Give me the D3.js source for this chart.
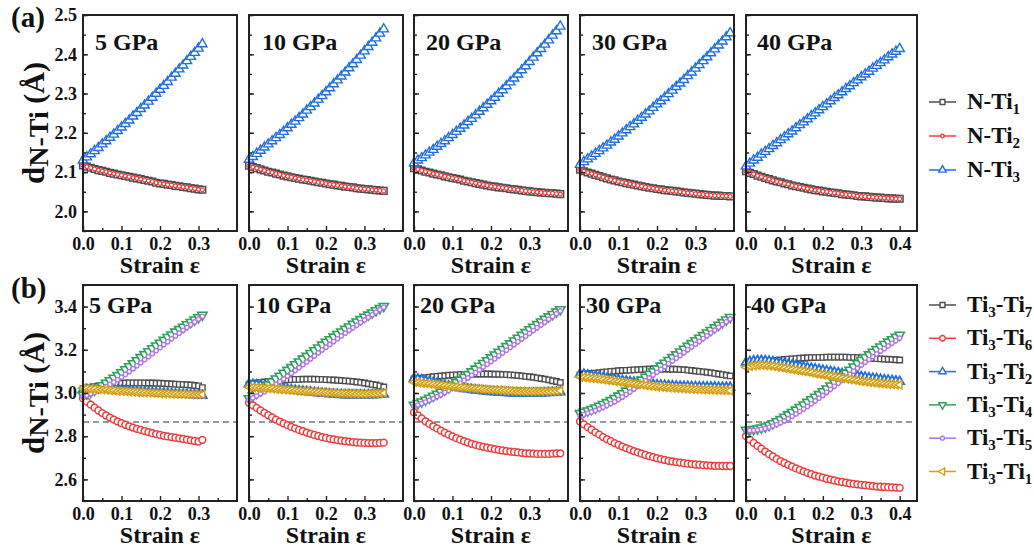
<!DOCTYPE html>
<html>
<head>
<meta charset="utf-8">
<script src="https://cdn.jsdelivr.net/npm/d3@7"></script>
<style>
  body { margin: 0; background: #fff; }
</style>
</head>
<body>
<svg id="chart" width="1034" height="551"></svg>
<script>
// strain grid (each pressure run stops at a different strain)
const STRAIN = [0.00,0.01,0.02,0.03,0.04,0.05,0.06,0.07,0.08,0.09,0.10,0.11,0.12,0.13,0.14,0.15,0.16,0.17,0.18,0.19,0.20,
  0.21,0.22,0.23,0.24,0.25,0.26,0.27,0.28,0.29,0.30,0.31,0.32,0.33,0.34,0.35,0.36,0.37,0.38,0.39,0.40];
const PRESSURES = ['5 GPa', '10 GPa', '20 GPa', '30 GPa', '40 GPa'];
const X_TICKS = [0.0, 0.1, 0.2, 0.3, 0.4];
const Y_TICKS_A = [2.0, 2.1, 2.2, 2.3, 2.4, 2.5];
const Y_TICKS_B = [2.6, 2.8, 3.0, 3.2, 3.4];
const D_REF = 2.866;   // dashed reference line in (b)

// (a) N-Ti distances, one list per pressure
const N_TI1 = [
  [2.117,2.114,2.111,2.108,2.105,2.103,2.101,2.098,2.096,2.094,2.092,2.090,2.088,2.086,2.084,2.082,2.080,2.078,2.076,2.073,2.071,2.070,2.068,2.067,2.065,2.064,2.062,2.061,2.059,2.058,2.056,2.055],
  [2.116,2.113,2.110,2.107,2.104,2.101,2.099,2.096,2.094,2.091,2.089,2.087,2.085,2.083,2.081,2.080,2.078,2.076,2.074,2.073,2.071,2.069,2.068,2.066,2.065,2.063,2.062,2.061,2.059,2.058,2.057,2.056,2.055,2.054,2.053,2.052],
  [2.110,2.107,2.104,2.101,2.099,2.096,2.094,2.092,2.089,2.087,2.085,2.083,2.081,2.078,2.076,2.074,2.072,2.070,2.068,2.066,2.064,2.063,2.061,2.060,2.059,2.057,2.056,2.055,2.053,2.052,2.051,2.050,2.049,2.048,2.047,2.046,2.046,2.045,2.044],
  [2.106,2.102,2.099,2.096,2.093,2.090,2.087,2.084,2.081,2.079,2.076,2.074,2.072,2.070,2.068,2.066,2.064,2.062,2.060,2.059,2.057,2.056,2.054,2.053,2.052,2.051,2.050,2.048,2.047,2.046,2.045,2.044,2.043,2.042,2.041,2.040,2.040,2.039,2.039,2.038],
  [2.102,2.098,2.095,2.091,2.088,2.085,2.082,2.079,2.076,2.074,2.071,2.069,2.066,2.064,2.062,2.060,2.058,2.056,2.054,2.053,2.051,2.050,2.048,2.047,2.046,2.044,2.043,2.042,2.041,2.039,2.038,2.038,2.037,2.036,2.035,2.035,2.034,2.033,2.033,2.032,2.032]
];
const N_TI2 = [
  [2.117,2.114,2.111,2.108,2.105,2.103,2.101,2.098,2.096,2.094,2.092,2.090,2.088,2.086,2.084,2.082,2.080,2.078,2.076,2.073,2.071,2.070,2.068,2.067,2.065,2.064,2.062,2.061,2.059,2.058,2.056,2.055],
  [2.116,2.113,2.110,2.107,2.104,2.101,2.099,2.096,2.094,2.091,2.089,2.087,2.085,2.083,2.081,2.080,2.078,2.076,2.074,2.073,2.071,2.069,2.068,2.066,2.065,2.063,2.062,2.061,2.059,2.058,2.057,2.056,2.055,2.054,2.053,2.052],
  [2.110,2.107,2.104,2.101,2.099,2.096,2.094,2.092,2.089,2.087,2.085,2.083,2.081,2.078,2.076,2.074,2.072,2.070,2.068,2.066,2.064,2.063,2.061,2.060,2.059,2.057,2.056,2.055,2.053,2.052,2.051,2.050,2.049,2.048,2.047,2.046,2.046,2.045,2.044],
  [2.106,2.102,2.099,2.096,2.093,2.090,2.087,2.084,2.081,2.079,2.076,2.074,2.072,2.070,2.068,2.066,2.064,2.062,2.060,2.059,2.057,2.056,2.054,2.053,2.052,2.051,2.050,2.048,2.047,2.046,2.045,2.044,2.043,2.042,2.041,2.040,2.040,2.039,2.039,2.038],
  [2.102,2.098,2.095,2.091,2.088,2.085,2.082,2.079,2.076,2.074,2.071,2.069,2.066,2.064,2.062,2.060,2.058,2.056,2.054,2.053,2.051,2.050,2.048,2.047,2.046,2.044,2.043,2.042,2.041,2.039,2.038,2.038,2.037,2.036,2.035,2.035,2.034,2.033,2.033,2.032,2.032]
];
const N_TI3 = [
  [2.130,2.138,2.146,2.154,2.162,2.171,2.179,2.188,2.196,2.205,2.214,2.223,2.232,2.242,2.251,2.261,2.270,2.280,2.290,2.300,2.310,2.320,2.330,2.341,2.351,2.362,2.372,2.383,2.394,2.404,2.415,2.426],
  [2.132,2.139,2.147,2.155,2.163,2.171,2.179,2.187,2.195,2.203,2.212,2.221,2.229,2.238,2.247,2.257,2.266,2.275,2.285,2.294,2.304,2.314,2.324,2.334,2.344,2.354,2.365,2.375,2.386,2.397,2.408,2.419,2.430,2.441,2.453,2.464],
  [2.123,2.130,2.136,2.143,2.150,2.157,2.165,2.172,2.179,2.187,2.195,2.203,2.211,2.219,2.228,2.236,2.245,2.254,2.263,2.272,2.281,2.290,2.300,2.309,2.319,2.329,2.339,2.349,2.360,2.370,2.381,2.392,2.403,2.414,2.425,2.436,2.448,2.459,2.471],
  [2.119,2.126,2.133,2.140,2.147,2.154,2.161,2.168,2.176,2.183,2.191,2.199,2.207,2.215,2.222,2.231,2.239,2.247,2.255,2.264,2.273,2.281,2.290,2.299,2.308,2.317,2.326,2.335,2.345,2.354,2.364,2.373,2.383,2.393,2.403,2.413,2.423,2.433,2.444,2.454],
  [2.115,2.122,2.130,2.137,2.145,2.152,2.159,2.167,2.174,2.182,2.189,2.197,2.204,2.212,2.220,2.227,2.235,2.243,2.250,2.258,2.266,2.273,2.281,2.289,2.296,2.304,2.312,2.319,2.327,2.334,2.342,2.349,2.356,2.364,2.371,2.378,2.385,2.393,2.400,2.407,2.414]
];

// (b) Ti3-Ti distances
const TI3_TI7 = [
  [3.020,3.023,3.026,3.029,3.032,3.035,3.038,3.040,3.042,3.044,3.045,3.046,3.047,3.047,3.047,3.047,3.047,3.046,3.046,3.045,3.045,3.044,3.043,3.042,3.041,3.040,3.039,3.038,3.037,3.035,3.033,3.025],
  [3.040,3.043,3.046,3.048,3.051,3.053,3.055,3.057,3.059,3.060,3.061,3.062,3.063,3.063,3.064,3.064,3.064,3.064,3.063,3.063,3.062,3.061,3.060,3.059,3.058,3.056,3.055,3.053,3.051,3.049,3.046,3.043,3.040,3.037,3.033,3.028],
  [3.065,3.067,3.069,3.071,3.073,3.075,3.077,3.079,3.080,3.082,3.083,3.084,3.085,3.086,3.087,3.087,3.088,3.088,3.088,3.088,3.088,3.087,3.087,3.086,3.085,3.084,3.083,3.081,3.079,3.077,3.075,3.073,3.070,3.067,3.064,3.061,3.057,3.053,3.049],
  [3.083,3.086,3.088,3.090,3.092,3.094,3.096,3.098,3.100,3.101,3.103,3.104,3.105,3.106,3.107,3.108,3.109,3.110,3.110,3.111,3.111,3.111,3.111,3.111,3.110,3.110,3.109,3.108,3.106,3.104,3.102,3.100,3.098,3.096,3.094,3.091,3.088,3.085,3.082,3.079],
  [3.128,3.132,3.136,3.139,3.142,3.145,3.147,3.149,3.151,3.153,3.155,3.157,3.158,3.159,3.161,3.162,3.163,3.164,3.164,3.165,3.165,3.166,3.166,3.166,3.166,3.166,3.166,3.165,3.165,3.164,3.163,3.162,3.161,3.160,3.159,3.158,3.157,3.156,3.155,3.154,3.153]
];
const TI3_TI6 = [
  [2.975,2.960,2.946,2.932,2.919,2.907,2.896,2.886,2.877,2.868,2.860,2.853,2.846,2.840,2.834,2.829,2.824,2.819,2.814,2.810,2.806,2.802,2.799,2.796,2.793,2.790,2.787,2.784,2.781,2.778,2.775,2.783],
  [2.955,2.943,2.931,2.919,2.908,2.897,2.887,2.877,2.868,2.859,2.851,2.843,2.836,2.829,2.823,2.817,2.811,2.806,2.801,2.796,2.792,2.788,2.785,2.782,2.779,2.777,2.775,2.773,2.771,2.770,2.769,2.768,2.768,2.768,2.769,2.770],
  [2.910,2.896,2.882,2.869,2.857,2.846,2.836,2.826,2.816,2.807,2.799,2.791,2.784,2.777,2.771,2.765,2.760,2.755,2.751,2.747,2.744,2.740,2.737,2.734,2.731,2.729,2.727,2.725,2.723,2.721,2.720,2.719,2.718,2.718,2.718,2.718,2.719,2.720,2.721],
  [2.868,2.855,2.842,2.830,2.818,2.807,2.796,2.786,2.777,2.768,2.760,2.752,2.745,2.738,2.731,2.725,2.719,2.713,2.708,2.703,2.698,2.694,2.690,2.686,2.683,2.680,2.678,2.675,2.673,2.671,2.669,2.668,2.666,2.665,2.664,2.663,2.663,2.662,2.662,2.662],
  [2.800,2.784,2.769,2.755,2.742,2.729,2.717,2.706,2.695,2.685,2.676,2.667,2.659,2.651,2.644,2.637,2.630,2.624,2.618,2.613,2.608,2.603,2.599,2.595,2.591,2.588,2.585,2.582,2.579,2.577,2.575,2.573,2.571,2.569,2.567,2.566,2.565,2.564,2.563,2.562,2.561]
];
const TI3_TI2 = [
  [3.015,3.016,3.017,3.018,3.018,3.018,3.017,3.016,3.015,3.013,3.012,3.011,3.010,3.008,3.007,3.006,3.005,3.004,3.002,3.001,3.000,2.999,2.998,2.997,2.996,2.995,2.994,2.993,2.992,2.991,2.990,2.988],
  [3.042,3.040,3.037,3.035,3.032,3.030,3.027,3.025,3.022,3.020,3.017,3.015,3.012,3.010,3.008,3.006,3.004,3.002,3.000,2.998,2.997,2.995,2.994,2.993,2.992,2.991,2.991,2.990,2.990,2.990,2.990,2.991,2.991,2.992,2.993,2.994],
  [3.068,3.064,3.060,3.056,3.052,3.048,3.044,3.040,3.036,3.032,3.029,3.026,3.023,3.020,3.018,3.015,3.013,3.011,3.009,3.007,3.006,3.004,3.003,3.002,3.001,3.000,2.999,2.999,2.998,2.998,2.998,2.998,2.999,2.999,3.000,3.001,3.002,3.003,3.004],
  [3.088,3.086,3.083,3.080,3.077,3.074,3.071,3.068,3.065,3.063,3.060,3.057,3.055,3.052,3.050,3.048,3.046,3.044,3.041,3.039,3.037,3.036,3.035,3.034,3.033,3.032,3.031,3.030,3.030,3.029,3.029,3.028,3.028,3.027,3.027,3.027,3.026,3.026,3.026,3.026],
  [3.142,3.145,3.148,3.150,3.150,3.149,3.147,3.144,3.141,3.138,3.135,3.132,3.129,3.126,3.123,3.120,3.117,3.114,3.111,3.108,3.105,3.102,3.099,3.096,3.093,3.090,3.087,3.084,3.081,3.078,3.075,3.073,3.070,3.068,3.066,3.063,3.061,3.059,3.057,3.055,3.053]
];
const TI3_TI4 = [
  [2.990,2.997,3.005,3.014,3.024,3.035,3.046,3.058,3.070,3.082,3.095,3.109,3.123,3.137,3.151,3.165,3.179,3.192,3.206,3.219,3.232,3.245,3.258,3.270,3.283,3.295,3.306,3.317,3.328,3.339,3.350,3.361],
  [2.975,2.987,3.000,3.013,3.026,3.039,3.052,3.066,3.079,3.092,3.106,3.119,3.132,3.145,3.158,3.171,3.184,3.197,3.210,3.223,3.236,3.248,3.260,3.272,3.284,3.296,3.307,3.319,3.330,3.341,3.352,3.362,3.372,3.382,3.392,3.402],
  [2.944,2.952,2.960,2.968,2.977,2.986,2.995,3.005,3.015,3.026,3.037,3.049,3.061,3.073,3.086,3.099,3.112,3.125,3.138,3.151,3.164,3.177,3.190,3.203,3.216,3.229,3.242,3.255,3.268,3.281,3.294,3.306,3.318,3.330,3.342,3.354,3.365,3.376,3.387],
  [2.906,2.912,2.918,2.925,2.932,2.940,2.948,2.957,2.966,2.976,2.987,2.998,3.010,3.022,3.035,3.048,3.061,3.074,3.087,3.100,3.113,3.126,3.139,3.152,3.165,3.178,3.191,3.204,3.217,3.230,3.243,3.255,3.267,3.279,3.291,3.303,3.315,3.327,3.339,3.351],
  [2.829,2.830,2.832,2.835,2.839,2.844,2.851,2.859,2.868,2.878,2.889,2.900,2.911,2.922,2.934,2.946,2.958,2.970,2.982,2.994,3.007,3.020,3.034,3.048,3.062,3.077,3.092,3.107,3.122,3.137,3.152,3.165,3.178,3.190,3.202,3.214,3.226,3.237,3.248,3.259,3.269]
];
const TI3_TI5 = [
  [2.985,2.990,2.996,3.003,3.011,3.020,3.029,3.039,3.050,3.061,3.073,3.086,3.099,3.112,3.126,3.140,3.154,3.168,3.182,3.196,3.210,3.224,3.237,3.251,3.264,3.277,3.290,3.303,3.316,3.329,3.342,3.355],
  [2.968,2.977,2.986,2.996,3.006,3.017,3.028,3.040,3.052,3.065,3.078,3.091,3.104,3.117,3.131,3.144,3.158,3.171,3.185,3.199,3.212,3.225,3.238,3.251,3.264,3.277,3.290,3.302,3.314,3.326,3.338,3.350,3.362,3.374,3.386,3.397],
  [2.937,2.944,2.951,2.958,2.966,2.974,2.983,2.992,3.002,3.012,3.023,3.034,3.046,3.058,3.070,3.082,3.094,3.107,3.120,3.133,3.146,3.159,3.172,3.185,3.198,3.211,3.224,3.237,3.250,3.263,3.276,3.289,3.302,3.315,3.328,3.341,3.354,3.367,3.380],
  [2.894,2.900,2.906,2.912,2.919,2.926,2.934,2.942,2.951,2.960,2.970,2.981,2.993,3.005,3.018,3.031,3.044,3.057,3.070,3.083,3.096,3.109,3.122,3.135,3.148,3.161,3.174,3.187,3.200,3.213,3.226,3.239,3.252,3.265,3.278,3.291,3.304,3.317,3.330,3.343],
  [2.826,2.826,2.827,2.829,2.832,2.836,2.841,2.847,2.854,2.862,2.871,2.881,2.892,2.903,2.914,2.926,2.938,2.950,2.963,2.976,2.989,3.003,3.017,3.031,3.045,3.059,3.073,3.087,3.101,3.115,3.129,3.142,3.155,3.168,3.181,3.194,3.206,3.218,3.230,3.242,3.254]
];
const TI3_TI1 = [
  [3.022,3.021,3.019,3.018,3.016,3.015,3.014,3.012,3.011,3.009,3.008,3.007,3.006,3.005,3.004,3.003,3.002,3.001,3.000,2.999,2.998,2.997,2.997,2.996,2.996,2.995,2.995,2.994,2.994,2.993,2.993,2.993],
  [3.027,3.026,3.025,3.024,3.022,3.021,3.020,3.018,3.017,3.015,3.014,3.013,3.011,3.010,3.009,3.008,3.006,3.005,3.004,3.003,3.002,3.001,3.000,2.999,2.998,2.998,2.997,2.997,2.996,2.996,2.996,2.997,2.997,2.998,2.999,3.000],
  [3.050,3.048,3.046,3.044,3.042,3.040,3.038,3.036,3.034,3.032,3.030,3.028,3.026,3.025,3.023,3.022,3.020,3.019,3.017,3.016,3.015,3.014,3.013,3.012,3.011,3.010,3.009,3.008,3.008,3.007,3.007,3.007,3.007,3.007,3.008,3.008,3.009,3.010,3.011],
  [3.074,3.072,3.070,3.068,3.066,3.064,3.062,3.059,3.057,3.054,3.052,3.049,3.047,3.044,3.042,3.040,3.038,3.035,3.033,3.031,3.029,3.028,3.026,3.025,3.023,3.022,3.021,3.020,3.019,3.018,3.017,3.016,3.015,3.015,3.014,3.013,3.013,3.012,3.012,3.011],
  [3.120,3.124,3.127,3.129,3.129,3.128,3.126,3.124,3.121,3.118,3.115,3.112,3.109,3.106,3.103,3.100,3.097,3.094,3.090,3.087,3.084,3.081,3.078,3.075,3.072,3.069,3.066,3.063,3.060,3.057,3.054,3.052,3.050,3.048,3.046,3.044,3.042,3.041,3.040,3.039,3.038]
];

// series styling (draw order = legend order, later ones on top)
const SERIES_A = [
  { label: 'N-Ti_1', data: N_TI1, color: '#4d4d4d', shape: 'square', size: 44, sw: 1.5 },
  { label: 'N-Ti_2', data: N_TI2, color: '#f03c3c', shape: 'circle', size: 12, sw: 1.2 },
  { label: 'N-Ti_3', data: N_TI3, color: '#1f6fe0', shape: 'up',     size: 38, sw: 1.4 }
];
const SERIES_B = [
  { label: 'Ti_3-Ti_7', data: TI3_TI7, color: '#4d4d4d', shape: 'square', size: 30, sw: 1.4 },
  { label: 'Ti_3-Ti_6', data: TI3_TI6, color: '#f03c3c', shape: 'circle', size: 36, sw: 1.5 },
  { label: 'Ti_3-Ti_2', data: TI3_TI2, color: '#1f6fe0', shape: 'up',     size: 34, sw: 1.8 },
  { label: 'Ti_3-Ti_4', data: TI3_TI4, color: '#2ea05c', shape: 'down',   size: 38, sw: 1.6 },
  { label: 'Ti_3-Ti_5', data: TI3_TI5, color: '#b374ea', shape: 'circle', size: 15, sw: 1.4 },
  { label: 'Ti_3-Ti_1', data: TI3_TI1, color: '#d4a012', shape: 'left',   size: 28, sw: 1.5 }
];

const PANEL_X = [83, 249, 414, 580, 746];
const PANEL_W = [154, 154, 154, 154, 171];
const X_MAX   = [0.4, 0.4, 0.4, 0.4, 0.445];

const ROWS = [
  { top: 15,  bottom: 231, domain: [1.95, 2.5], major: Y_TICKS_A, minorStep: 0.05, series: SERIES_A,
    tag: '(a)', tagY: 27, titleDy: 35, titleDx: [12, 13, 12, 12, 11], legendX: 929, legendY: 102, legendGap: 34 },
  { top: 285, bottom: 501, domain: [2.5, 3.5],  major: Y_TICKS_B, minorStep: 0.1,  series: SERIES_B,
    tag: '(b)', tagY: 298, titleDy: 28, titleDx: [6, 7, 6, 6, 5], legendX: 929, legendY: 305, legendGap: 33.3 }
];

const FONT = 'Liberation Serif';
const svg = d3.select('#chart');

function symbolPath(shape, size) {
  const type = shape === 'square' ? d3.symbolSquare : shape === 'circle' ? d3.symbolCircle : d3.symbolTriangle;
  return d3.symbol().type(type).size(size)();
}
function symbolRotate(shape) {
  if (shape === 'down') return 180;
  if (shape === 'left') return -90;
  return 0;
}

// text with "_n" subscripts
function richText(sel, label, size, subSize, shift) {
  const parts = label.split(/_(\d)/);
  let prevSub = false;
  parts.forEach((p, k) => {
    const sub = k % 2 === 1;
    if (!p) return;
    const t = sel.append('tspan').attr('font-size', sub ? subSize : size).text(p);
    if (sub && !prevSub) t.attr('dy', shift);
    if (!sub && prevSub) t.attr('dy', -shift);
    prevSub = sub;
  });
}

ROWS.forEach((row, r) => {
  const y = d3.scaleLinear().domain(row.domain).range([row.bottom, row.top]);
  const yMinor = d3.range(row.domain[0], row.domain[1] + 1e-9, row.minorStep);

  PRESSURES.forEach((p, i) => {
    const x = d3.scaleLinear().domain([0, X_MAX[i]]).range([PANEL_X[i], PANEL_X[i] + PANEL_W[i]]);
    const xMinor = d3.range(0.05, X_MAX[i], 0.1);
    const g = svg.append('g');

    // dashed reference line in (b)
    if (r === 1) {
      g.append('line')
        .attr('x1', x.range()[0]).attr('x2', x.range()[1])
        .attr('y1', y(D_REF)).attr('y2', y(D_REF))
        .attr('stroke', '#333').attr('stroke-width', 1.1).attr('stroke-dasharray', '6,4');
    }

    row.series.forEach(s => {
      const pts = s.data[i].map((v, k) => [STRAIN[k], v]);
      g.append('path')
        .datum(pts)
        .attr('fill', 'none').attr('stroke', s.color).attr('stroke-width', 1.2)
        .attr('d', d3.line().x(d => x(d[0])).y(d => y(d[1])));
      g.selectAll(null).data(pts).join('path')
        .attr('d', symbolPath(s.shape, s.size))
        .attr('transform', d => `translate(${x(d[0])},${y(d[1])}) rotate(${symbolRotate(s.shape)})`)
        .attr('fill', '#fff').attr('stroke', s.color).attr('stroke-width', s.sw);
    });

    // axes (ticks inward)
    const xAxis = d3.axisBottom(x).tickValues(X_TICKS.filter(v => v < X_MAX[i] - 1e-6 || i === 4))
      .tickSize(-5).tickPadding(6).tickFormat(d3.format('.1f'));
    g.append('g').attr('transform', `translate(0,${row.bottom})`).call(xAxis);
    g.append('g').attr('transform', `translate(0,${row.bottom})`)
      .call(d3.axisBottom(x).tickValues(xMinor).tickSize(-3))
      .selectAll('text').remove();

    const yAxis = d3.axisLeft(y).tickValues(row.major).tickSize(-5).tickPadding(6)
      .tickFormat(d3.format('.1f'));
    const ya = g.append('g').attr('transform', `translate(${PANEL_X[i]},0)`).call(yAxis);
    if (i > 0) ya.selectAll('text').remove();
    g.append('g').attr('transform', `translate(${PANEL_X[i]},0)`)
      .call(d3.axisLeft(y).tickValues(yMinor).tickSize(-3))
      .selectAll('text').remove();

    g.selectAll('.domain').remove();
    g.selectAll('g').attr('font-family', null).attr('font-size', null);
    g.selectAll('.tick line').attr('stroke', '#222').attr('stroke-width', 1.4);
    g.selectAll('.tick text').attr('font-size', 18);

    // frame
    g.append('rect')
      .attr('x', PANEL_X[i]).attr('y', row.top)
      .attr('width', PANEL_W[i]).attr('height', row.bottom - row.top)
      .attr('fill', 'none').attr('stroke', '#222').attr('stroke-width', 2);

    // pressure label
    g.append('text')
      .attr('x', PANEL_X[i] + row.titleDx[i]).attr('y', row.top + row.titleDy)
      .attr('font-size', 24).text(p);

    // x title
    g.append('text')
      .attr('x', PANEL_X[i] + PANEL_W[i] / 2).attr('y', row.bottom + 42)
      .attr('text-anchor', 'middle').attr('font-size', 24).text('Strain ε');
  });

  // y title: d_{N-Ti} (Å)
  const yt = svg.append('text')
    .attr('transform', `translate(44,${(row.top + row.bottom) / 2}) rotate(-90)`)
    .attr('text-anchor', 'middle');
  yt.append('tspan').attr('font-size', 31).text('d');
  yt.append('tspan').attr('font-size', 28).attr('dy', 4).text('N-Ti');
  yt.append('tspan').attr('font-size', 30).attr('dy', -4).text(' (Å)');

  // panel tag
  svg.append('text').attr('x', 11).attr('y', row.tagY).attr('font-size', 29).text(row.tag);

  // legend
  row.series.forEach((s, k) => {
    const ly = row.legendY + k * row.legendGap;
    const lg = svg.append('g');
    lg.append('line').attr('x1', row.legendX).attr('x2', row.legendX + 27)
      .attr('y1', ly).attr('y2', ly).attr('stroke', s.color).attr('stroke-width', 1.5);
    lg.append('path')
      .attr('d', symbolPath(s.shape, Math.min(s.size, 30) * 0.8))
      .attr('transform', `translate(${row.legendX + 13.5},${ly}) rotate(${symbolRotate(s.shape)})`)
      .attr('fill', '#fff').attr('stroke', s.color).attr('stroke-width', 1.4);
    const t = lg.append('text').attr('x', row.legendX + 38).attr('y', ly + 7);
    richText(t, s.label, 23, 15, 5);
  });
});

// serif bold on every text, set as plain attributes
svg.selectAll('text')
  .attr('font-family', FONT)
  .attr('font-weight', 'bold')
  .attr('fill', '#111');
</script>
</body>
</html>
